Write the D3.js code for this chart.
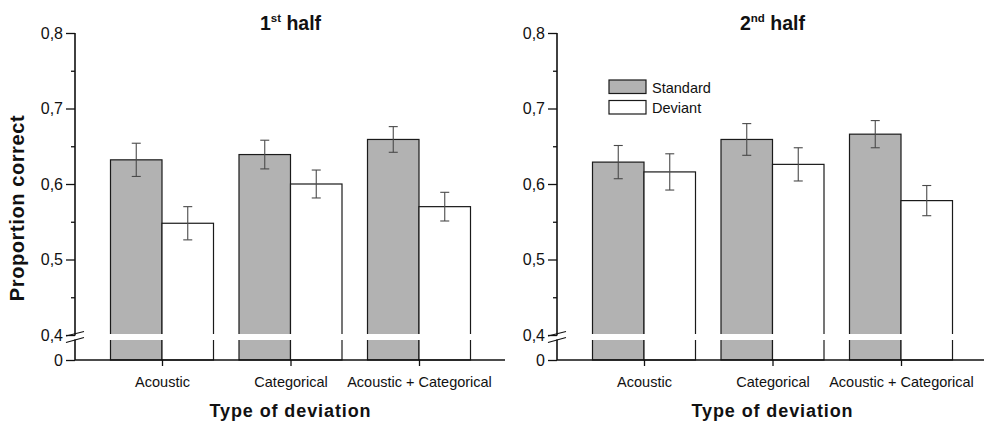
<!DOCTYPE html>
<html>
<head>
<meta charset="utf-8">
<script src="https://cdn.jsdelivr.net/npm/d3@7"></script>
<style>
  body { margin: 0; background: #fff; }
  text { font-family: "Liberation Sans", Arial, sans-serif; fill: #111; }
</style>
</head>
<body>
<div id="chart"></div>
<script>
// data
const categories = ["Acoustic", "Categorical", "Acoustic + Categorical"];
const series = ["Standard", "Deviant"];

const standard1 = [0.632, 0.639, 0.659];
const standardErr1 = [0.022, 0.019, 0.017];
const deviant1 = [0.548, 0.600, 0.570];
const deviantErr1 = [0.022, 0.0185, 0.019];

const standard2 = [0.629, 0.659, 0.666];
const standardErr2 = [0.022, 0.021, 0.018];
const deviant2 = [0.616, 0.626, 0.578];
const deviantErr2 = [0.024, 0.022, 0.020];

const majorTicks = [0, 0.4, 0.5, 0.6, 0.7, 0.8];
const minorTicks = [0.45, 0.55, 0.65, 0.75];

const W = 984, H = 423;
const svg = d3.select("#chart").append("svg")
    .attr("width", W)
    .attr("height", H);

// broken axis: 0 .. 0.4 squeezed into a short stub
const y = d3.scaleLinear()
    .domain([0, 0.4, 0.8])
    .range([360, 335, 33]);

const axisX = 75;
const x = d3.scalePoint()
    .domain(categories)
    .range([162, 419]);

const barW = 51.5;
const fills = { Standard: "#b2b2b2", Deviant: "#ffffff" };

function panel(left, title, sup, std, stdErr, dev, devErr, showLegend) {
    const g = svg.append("g").attr("transform", "translate(" + left + ",0)");

    const rows = [];
    categories.forEach(function (c, i) {
        rows.push({ cat: c, s: "Standard", v: std[i], e: stdErr[i], x0: x(c) - barW });
        rows.push({ cat: c, s: "Deviant", v: dev[i], e: devErr[i], x0: x(c) });
    });

    // bars
    g.selectAll("rect.bar")
        .data(rows)
        .enter()
        .append("rect")
        .attr("class", "bar")
        .attr("x", function (d) { return d.x0; })
        .attr("y", function (d) { return y(d.v); })
        .attr("width", barW)
        .attr("height", function (d) { return y(0) - y(d.v); })
        .attr("fill", function (d) { return fills[d.s]; })
        .attr("stroke", "#1a1a1a")
        .attr("stroke-width", 1.2);

    // white gap where the axis is broken
    g.selectAll("rect.gap")
        .data(rows)
        .enter()
        .append("rect")
        .attr("class", "gap")
        .attr("x", function (d) { return d.x0 - 1.5; })
        .attr("y", y(0.4) - 1)
        .attr("width", barW + 3)
        .attr("height", 6)
        .attr("fill", "#fff");

    // error bars
    const eb = g.selectAll("g.err")
        .data(rows)
        .enter()
        .append("g")
        .attr("class", "err")
        .attr("stroke", "#4a4a4a")
        .attr("stroke-width", 1.1);
    eb.append("line")
        .attr("x1", function (d) { return d.x0 + barW / 2; })
        .attr("x2", function (d) { return d.x0 + barW / 2; })
        .attr("y1", function (d) { return y(d.v + d.e); })
        .attr("y2", function (d) { return y(d.v - d.e); });
    eb.selectAll("line.cap")
        .data(function (d) { return [d.v + d.e, d.v - d.e].map(function (v) { return { v: v, cx: d.x0 + barW / 2 }; }); })
        .enter()
        .append("line")
        .attr("class", "cap")
        .attr("x1", function (d) { return d.cx - 4.5; })
        .attr("x2", function (d) { return d.cx + 4.5; })
        .attr("y1", function (d) { return y(d.v); })
        .attr("y2", function (d) { return y(d.v); });

    // y axis
    const yAxis = g.append("g")
        .attr("transform", "translate(" + axisX + ",0)")
        .call(d3.axisLeft(y).tickValues(majorTicks).tickSize(9).tickPadding(3)
            .tickFormat(function (d) { return d === 0 ? "0" : d3.format(".1f")(d).replace(".", ","); }));
    yAxis.select(".domain").remove();
    yAxis.selectAll("text").style("font-size", "16px").attr("fill", "#111");
    yAxis.selectAll("line").attr("stroke", "#111").attr("stroke-width", 1.3);

    const yMinor = g.append("g")
        .attr("transform", "translate(" + axisX + ",0)")
        .call(d3.axisLeft(y).tickValues(minorTicks).tickSize(4).tickFormat(""));
    yMinor.select(".domain").remove();
    yMinor.selectAll("line").attr("stroke", "#111").attr("stroke-width", 1.3);

    const y4 = y(0.4);
    g.append("line")
        .attr("x1", axisX).attr("x2", axisX)
        .attr("y1", y(0.8)).attr("y2", y4 + 0.5)
        .attr("stroke", "#111").attr("stroke-width", 1.6);
    g.append("line")
        .attr("x1", axisX).attr("x2", axisX)
        .attr("y1", y4 + 4.5).attr("y2", y(0))
        .attr("stroke", "#111").attr("stroke-width", 1.6);
    // break marks
    [[1, -3.5], [7.5, 2.5]].forEach(function (o) {
        g.append("line")
            .attr("x1", axisX - 9).attr("y1", y4 + o[0])
            .attr("x2", axisX + 9).attr("y2", y4 + o[1])
            .attr("stroke", "#111").attr("stroke-width", 1.2);
    });

    // x axis
    const xAxis = g.append("g")
        .attr("transform", "translate(0," + y(0) + ")")
        .call(d3.axisBottom(x).tickSize(6).tickPadding(11));
    xAxis.select(".domain").remove();
    xAxis.selectAll("text").style("font-size", "14.5px").attr("fill", "#111");
    xAxis.selectAll("line").attr("stroke", "#111").attr("stroke-width", 1.3);
    g.append("line")
        .attr("x1", axisX).attr("x2", 505)
        .attr("y1", y(0)).attr("y2", y(0))
        .attr("stroke", "#111").attr("stroke-width", 1.6);

    // title
    const t = g.append("text")
        .attr("x", x(categories[1]))
        .attr("y", 30)
        .attr("text-anchor", "middle")
        .style("font-size", "19.5px")
        .style("font-weight", "bold");
    t.append("tspan").text(title);
    t.append("tspan").attr("dy", -8).style("font-size", "11.5px").text(sup);
    t.append("tspan").attr("dy", 8).text(" half");

    g.append("text")
        .attr("x", x(categories[1]))
        .attr("y", 417)
        .attr("text-anchor", "middle")
        .style("font-size", "18px")
        .style("letter-spacing", "0.9px")
        .style("font-weight", "bold")
        .text("Type of deviation");

    if (showLegend) {
        const lg = g.selectAll("g.legend")
            .data(series)
            .enter()
            .append("g")
            .attr("class", "legend")
            .attr("transform", function (d, i) { return "translate(127," + (80 + i * 20.5) + ")"; });
        lg.append("rect")
            .attr("width", 37)
            .attr("height", 13.5)
            .attr("fill", function (d) { return fills[d]; })
            .attr("stroke", "#1a1a1a")
            .attr("stroke-width", 1.2);
        lg.append("text")
            .attr("x", 43)
            .attr("y", 12.5)
            .style("font-size", "14.5px")
            .text(function (d) { return d; });
    }
}

panel(0, "1", "st", standard1, standardErr1, deviant1, deviantErr1, false);
panel(482, "2", "nd", standard2, standardErr2, deviant2, deviantErr2, true);

svg.append("text")
    .attr("transform", "translate(24,208) rotate(-90)")
    .attr("text-anchor", "middle")
    .style("font-size", "20px")
    .style("letter-spacing", "0.6px")
    .style("font-weight", "bold")
    .text("Proportion correct");
</script>
</body>
</html>
